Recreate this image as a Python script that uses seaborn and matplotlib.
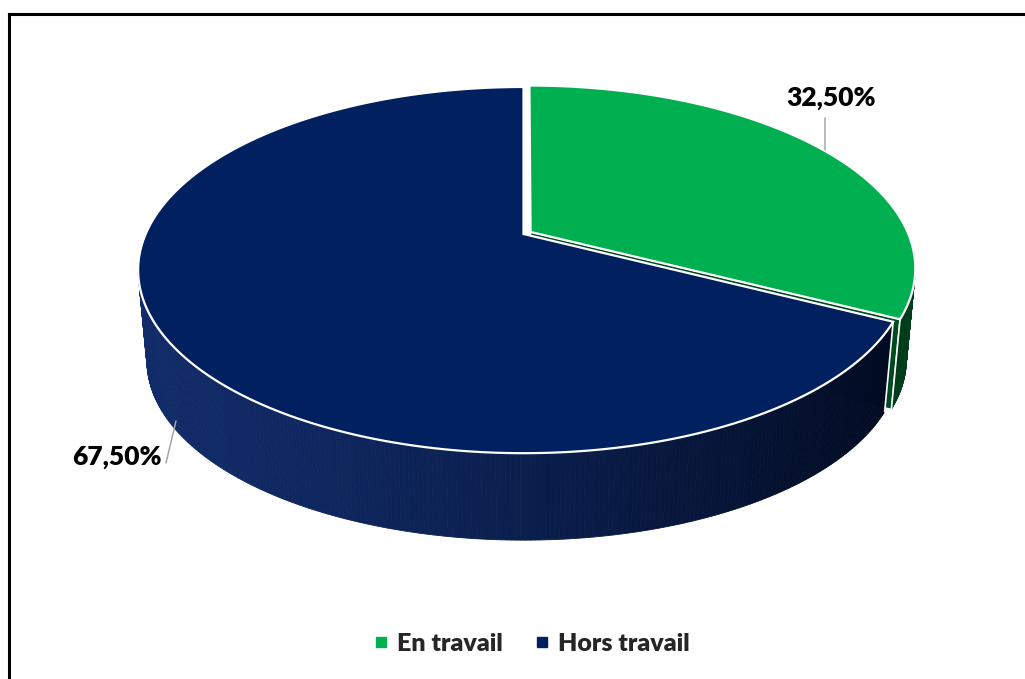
import numpy as np
import matplotlib
matplotlib.use("Agg")
import matplotlib.pyplot as plt
import seaborn as sns
from matplotlib.patches import Polygon
from matplotlib.lines import Line2D
from matplotlib.colors import to_rgb

sns.set_theme(style="white")
plt.rcParams['font.family'] = ['Lato', 'DejaVu Sans']

# Data
categories = ["En travail", "Hors travail"]
values = [32.5, 67.5]
value_labels = ["32,50%", "67,50%"]
top_colors = ["#00B050", "#002060"]
side_left_colors = ["#005a28", "#112b68"]
side_right_colors = ["#003d1a", "#010a20"]
explode = [0.022, 0.0]

# Projection of the pie disc (perspective view from above)
CX, CY = 523.5, 234.0
A, B, K = 377.8, 176.0, 0.197
CY_BOT, S_BOT = 326.0, 0.977


def project(u, v, bottom=False):
    d = 1.0 + K * v
    if bottom:
        return CX + S_BOT * A * u / d, CY_BOT - S_BOT * B * v / d
    return CX + A * u / d, CY - B * v / d


fig = plt.figure(figsize=(10.25, 6.79), dpi=100)
ax = fig.add_axes([0, 0, 1, 1])
ax.set_xlim(0, 1025)
ax.set_ylim(679, 0)
ax.axis("off")

# slice angles (degrees), starting at 12 o'clock, clockwise
total = sum(values)
bounds = []
start = 90.0
for val in values:
    sweep = 360.0 * val / total
    bounds.append((start - sweep, start))
    start -= sweep

x_left, x_right = CX - A * 1.02, CX + A * 1.02


def side_color(i, x):
    t = np.clip((x - x_left) / (x_right - x_left), 0, 1) ** 1.4
    c0, c1 = np.array(to_rgb(side_left_colors[i])), np.array(to_rgb(side_right_colors[i]))
    return c0 + (c1 - c0) * t


def slice_offset(i):
    lo, hi = bounds[i]
    mid = np.radians((lo + hi) / 2)
    return explode[i] * np.cos(mid), explode[i] * np.sin(mid)


faces, sides, edges, tops = [], [], [], []

for i in range(len(values)):
    lo, hi = bounds[i]
    du, dv = slice_offset(i)
    phis = np.radians(np.linspace(lo, hi, 400))
    u = np.cos(phis) + du
    v = np.sin(phis) + dv

    # top face
    tx, ty = project(np.r_[du, u], np.r_[dv, v])
    tops.append(Polygon(np.c_[tx, ty], closed=True, facecolor=top_colors[i],
                        edgecolor="white", lw=1.6, joinstyle="miter"))

    # curved side, drawn as narrow shaded strips where it faces the viewer
    front = np.sin(phis) < -K
    idx = np.where(front)[0]
    if len(idx) > 1:
        for j0, j1 in zip(idx[:-1], idx[1:]):
            xs0, ys0 = project(u[[j0, j1]], v[[j0, j1]])
            xs1, ys1 = project(u[[j1, j0]], v[[j1, j0]], bottom=True)
            col = side_color(i, xs0.mean())
            sides.append((i, Polygon(np.c_[np.r_[xs0, xs1], np.r_[ys0, ys1]], closed=True,
                                     facecolor=col, edgecolor=col, lw=0.6)))
        # vertical edges at the slice boundaries
        for j in (idx[0], idx[-1]):
            if j in (0, len(phis) - 1):
                ex0, ey0 = project(u[j], v[j])
                ex1, ey1 = project(u[j], v[j], bottom=True)
                edges.append((i, [ex0, ex1], [ey0, ey1]))

    # radial cut face at the start of a slice when it turns toward the viewer
    if explode[i] > 0:
        ang = np.radians(lo)
        uu = np.array([du, np.cos(ang) + du])
        vv = np.array([dv, np.sin(ang) + dv])
        fx0, fy0 = project(uu, vv)
        fx1, fy1 = project(uu[::-1], vv[::-1], bottom=True)
        faces.append(Polygon(np.c_[np.r_[fx0, fx1], np.r_[fy0, fy1]], closed=True,
                             facecolor="#004a20", edgecolor="white", lw=1.0))

for p in faces:
    ax.add_patch(p)
for i in range(len(values)):
    for j, p in sides:
        if j == i:
            ax.add_patch(p)
    for j, ex, ey in edges:
        if j == i:
            ax.plot(ex, ey, color="white", lw=1.2)
for p in tops[::-1]:
    ax.add_patch(p)

# Value labels with leader lines
lead = "#a6a6a6"
ax.plot([825, 825], [118, 150], color=lead, lw=1.1)
ax.text(831, 98, value_labels[0], ha="center", va="center", fontsize=19,
        fontweight="heavy", color="black")
ax.plot([166, 176], [463, 421], color=lead, lw=1.1)
ax.text(117, 457, value_labels[1], ha="center", va="center", fontsize=19,
        fontweight="heavy", color="black")

# Legend
handles = [Line2D([0], [0], marker="s", linestyle="none", markersize=6.5,
                  markerfacecolor=c, markeredgecolor=c) for c in top_colors]
leg = fig.legend(handles, categories, loc="center", bbox_to_anchor=(531 / 1025, 1 - 644 / 679),
                 ncol=2, frameon=False, handlelength=0.7, handletextpad=0.3,
                 columnspacing=1.2, prop={"weight": "heavy", "size": 18})

# Chart frame
fig.add_artist(Line2D([8.5 / 1025, 8.5 / 1025], [0, 1 - 14 / 679], transform=fig.transFigure,
                      color="black", lw=2.2, solid_capstyle="projecting"))
fig.add_artist(Line2D([8.5 / 1025, 1.0], [1 - 14 / 679, 1 - 14 / 679], transform=fig.transFigure,
                      color="black", lw=2.2, solid_capstyle="projecting"))

fig.savefig("out.png", dpi=100, facecolor="white")
